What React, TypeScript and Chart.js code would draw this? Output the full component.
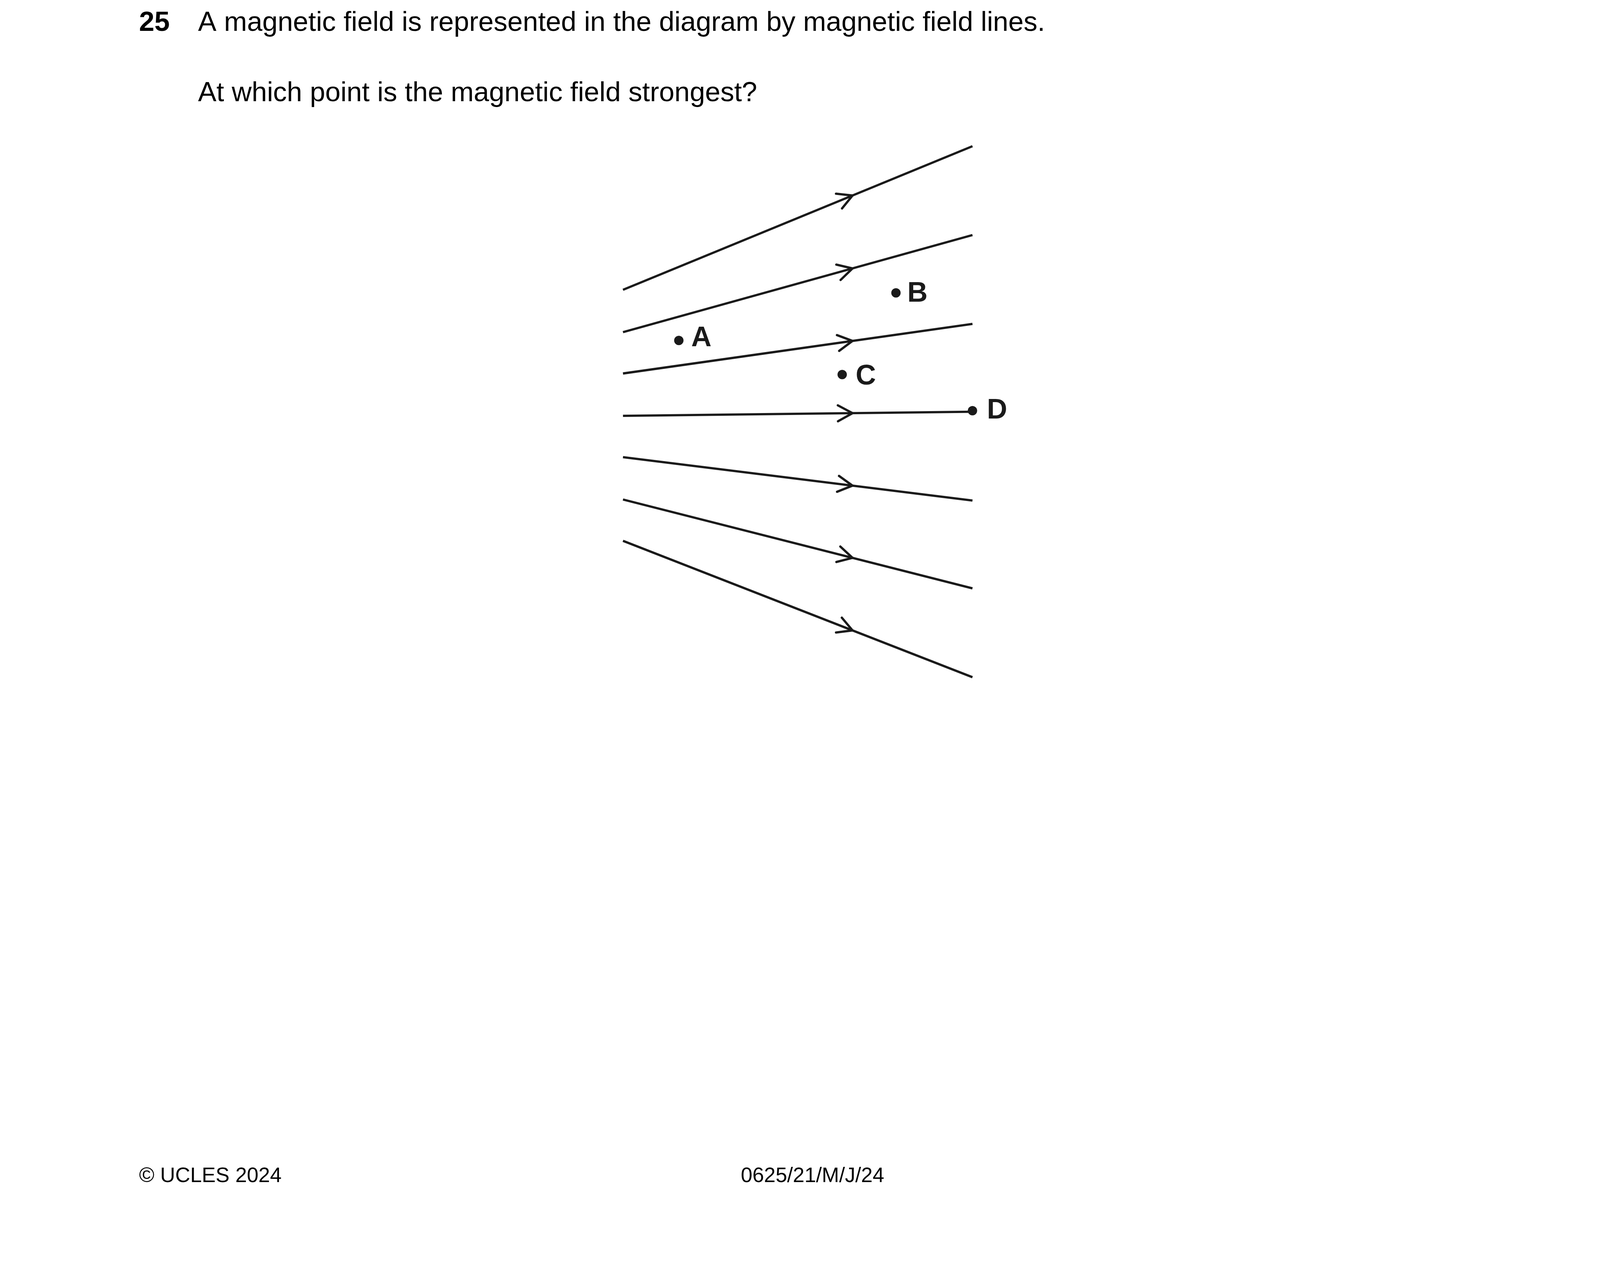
import { useEffect, useRef } from "react";
import Chart from "chart.js/auto";

// diagram coordinates in units of the 1552-wide reference view
const W = 1552;
const H = 1229;
const S = 4132 / W;

const lineStartX = 598;
const lineEndX = 936;
const arrowX = 820;
const leftYs = [276, 317, 357, 398, 438, 479, 519];
const rightYs = [137, 223, 309, 394, 480, 565, 651];

const pointNames = ["A", "B", "C", "D"];
const pointXs = [652, 862, 810, 936];
const pointYs = [325, 279, 358, 393];
const labelOffsets = [[22, -2], [21, 1], [23, 2], [24, 0]];

const texts = [
  { t: "25", x: 130, y: 18, size: 26.5, bold: true },
  { t: "A magnetic field is represented in the diagram by magnetic field lines.", x: 187, y: 18, size: 26.5, bold: false },
  { t: "At which point is the magnetic field strongest?", x: 187, y: 86, size: 26.5, bold: false },
  { t: "© UCLES 2024", x: 130, y: 1134, size: 20, bold: false },
  { t: "0625/21/M/J/24", x: 712, y: 1134, size: 20, bold: false },
];

function App() {
  const ref = useRef<HTMLCanvasElement | null>(null);

  useEffect(() => {
    document.body.style.margin = "0";
    const ctx = ref.current?.getContext("2d");
    if (!ctx) return;

    const datasets: any[] = leftYs.map((y, i) => ({
      type: "line",
      data: [{ x: lineStartX, y }, { x: lineEndX, y: rightYs[i] }],
      borderColor: "#1a1a1a",
      borderWidth: 2.2 * S,
      pointRadius: 0,
    }));
    datasets.push({
      type: "scatter",
      data: pointXs.map((x, i) => ({ x, y: pointYs[i] })),
      backgroundColor: "#1a1a1a",
      borderWidth: 0,
      pointRadius: 4.5 * S,
    });

    const overlay = {
      id: "overlay",
      afterDraw(chart: any) {
        const c = chart.ctx;
        const xs = chart.scales.x;
        const ys = chart.scales.y;
        c.save();
        // arrow heads
        c.strokeStyle = "#1a1a1a";
        c.lineWidth = 2.2 * S;
        c.lineCap = "round";
        leftYs.forEach((y0, i) => {
          const y1 = rightYs[i];
          const t = (arrowX - lineStartX) / (lineEndX - lineStartX);
          const ay = y0 + (y1 - y0) * t;
          const px = xs.getPixelForValue(arrowX);
          const py = ys.getPixelForValue(ay);
          const ang = Math.atan2(ys.getPixelForValue(y1) - ys.getPixelForValue(y0), xs.getPixelForValue(lineEndX) - xs.getPixelForValue(lineStartX));
          const L = 16 * S;
          c.beginPath();
          c.moveTo(px + L * Math.cos(ang + Math.PI - 0.5), py + L * Math.sin(ang + Math.PI - 0.5));
          c.lineTo(px, py);
          c.lineTo(px + L * Math.cos(ang + Math.PI + 0.5), py + L * Math.sin(ang + Math.PI + 0.5));
          c.stroke();
        });
        // point labels
        c.fillStyle = "#1a1a1a";
        c.textBaseline = "middle";
        c.font = `bold ${27 * S}px "Liberation Sans", Arial, sans-serif`;
        pointNames.forEach((n, i) => {
          c.fillText(n, xs.getPixelForValue(pointXs[i] + labelOffsets[i][0] - 10), ys.getPixelForValue(pointYs[i] + labelOffsets[i][1]));
        });
        // text
        c.fillStyle = "#000";
        texts.forEach((tx) => {
          c.font = `${tx.bold ? "bold " : ""}${tx.size * S}px "Liberation Sans", Arial, sans-serif`;
          c.fillText(tx.t, xs.getPixelForValue(tx.x), ys.getPixelForValue(tx.y));
        });
        c.restore();
      },
    };

    const chart = new Chart(ctx, {
      type: "line",
      data: { datasets },
      options: {
        animation: false,
        responsive: false,
        devicePixelRatio: 1,
        layout: { padding: 0 },
        plugins: { legend: { display: false }, tooltip: { enabled: false } },
        scales: {
          x: { type: "linear", min: 0, max: W, display: false },
          y: { type: "linear", min: 0, max: H, reverse: true, display: false },
        },
      },
      plugins: [overlay],
    } as any);

    return () => chart.destroy();
  }, []);

  return (
    <div style={{ position: "absolute", left: 0, top: 0, width: 4132, height: 3273, background: "#fff" }}>
      <canvas ref={ref} width={4132} height={3273} style={{ width: 4132, height: 3273 }}></canvas>
    </div>
  );
}

export default App;
